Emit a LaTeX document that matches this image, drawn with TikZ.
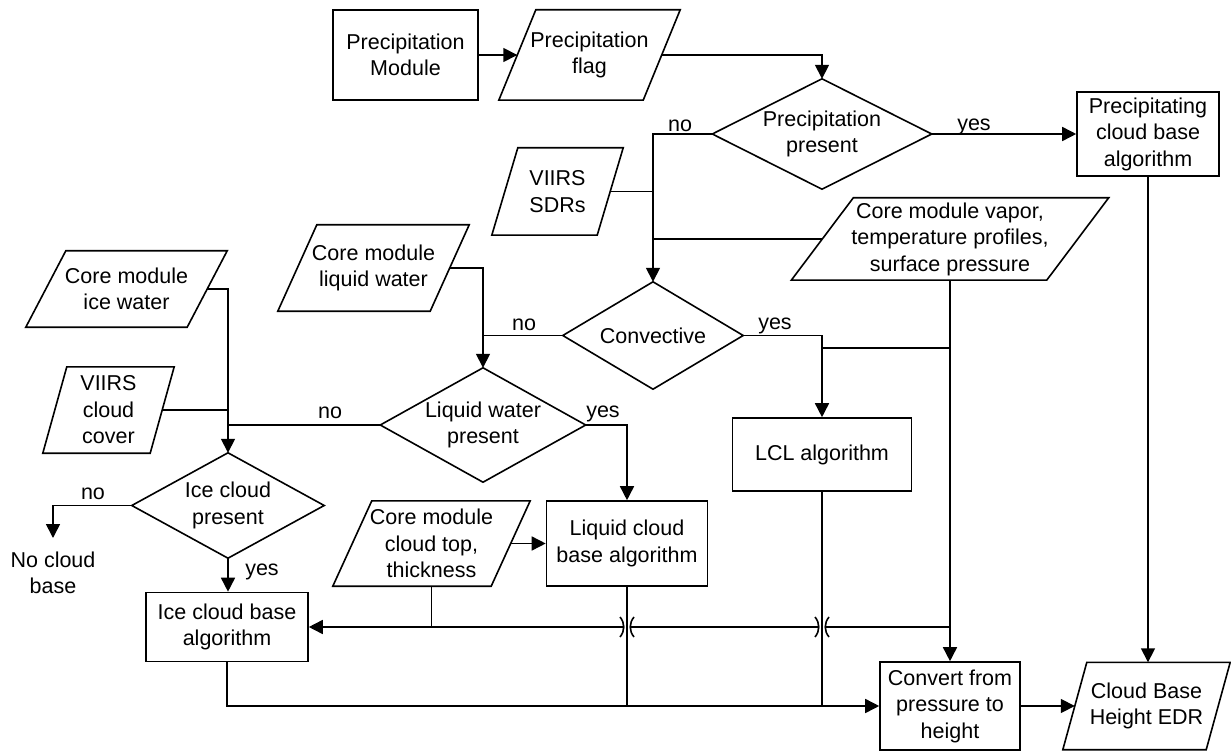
\documentclass[tikz,border=0pt]{standalone}
\usepackage{fontspec}
\setmainfont{Liberation Sans}
\usetikzlibrary{arrows.meta,calc}
\newcommand\ioshape[2]{\draw[line,line join=miter] ([xshift=#2pt]#1.north west) -- (#1.north east) -- ([xshift=-#2pt]#1.south east) -- (#1.south west) -- cycle;}
\newcommand\dmshape[1]{\draw[line,line join=miter] (#1.north) -- (#1.east) -- (#1.south) -- (#1.west) -- cycle;}
\newcommand\jumpmark[2]{\draw[line] (#1-7,#2-10) .. controls (#1-2,#2-4) and (#1-2,#2+4) .. (#1-7,#2+10); \draw[line] (#1+7,#2-10) .. controls (#1+2,#2-4) and (#1+2,#2+4) .. (#1+7,#2+10);}
\begin{document}
\begin{tikzpicture}[x=1pt,y=-1pt,
  every node/.style={font=\fontsize{21.5}{26.5}\selectfont, align=center, inner sep=0pt},
  line/.style={line width=1.6pt},
  arr/.style={line, -{Triangle[length=14pt,width=14pt]}},
  box/.style={draw, line width=1.6pt},
  lab/.style={anchor=base}]
\useasboundingbox (0,0) rectangle (1231,751);
% nodes
\node[box, minimum width=145pt, minimum height=90pt] (pm) at (405.5,55) {Precipitation\\Module};
\node[minimum width=181pt, minimum height=90pt] (pf) at (589.5,55) {Precipitation\\flag};
\node[minimum width=219pt, minimum height=110pt] (pp) at (822,134) {Precipitation\\present};
\node[box, minimum width=142pt, minimum height=84pt] (pcb) at (1148,134) {Precipitating\\cloud base\\algorithm};
\node[minimum width=131pt, minimum height=87pt] (sdr) at (557.5,191.5) {VIIRS\\SDRs};
\node[minimum width=317pt, minimum height=82pt] (vap) at (950,239) {Core module vapor,\\temperature profiles,\\surface pressure};
\node[minimum width=191pt, minimum height=86pt] (lw) at (373.5,268) {Core module\\liquid water};
\node[minimum width=201pt, minimum height=76pt] (iw) at (126.5,289) {Core module\\ice water};
\node[minimum width=180pt, minimum height=107pt] (cv) at (653,335.5) {Convective};
\node[minimum width=131pt, minimum height=86pt] (cc) at (108.5,410) {VIIRS\\cloud\\cover};
\node[minimum width=205pt, minimum height=114pt] (lwp) at (483,425) {Liquid water\\present};
\node[box, minimum width=179pt, minimum height=73pt] (lcl) at (822,454.5) {LCL algorithm};
\node[minimum width=192pt, minimum height=105pt] (icp) at (228,505.5) {Ice cloud\\present};
\node (ncb) at (53,573) {No cloud\\base};
\coordinate (ncbtop) at (53,538);
\node[minimum width=197pt, minimum height=85pt] (ct) at (431.5,543.5) {Core module\\cloud top,\\thickness};
\node[box, minimum width=161pt, minimum height=85pt] (lcb) at (627,543.5) {Liquid cloud\\base algorithm};
\node[box, minimum width=162pt, minimum height=69pt] (icb) at (227,627) {Ice cloud base\\algorithm};
\node[box, minimum width=140pt, minimum height=88pt] (cph) at (950,706) {Convert from\\pressure to\\height};
\node[minimum width=167pt, minimum height=87pt] (edr) at (1146.5,706) {Cloud Base\\Height EDR};
% shapes
\ioshape{pf}{37}
\ioshape{sdr}{26}
\ioshape{vap}{62}
\ioshape{lw}{39}
\ioshape{iw}{40}
\ioshape{cc}{24}
\ioshape{ct}{39}
\ioshape{edr}{24}
\dmshape{pp}
\dmshape{cv}
\dmshape{lwp}
\dmshape{icp}
% labels
\node[lab] (l1) at (974,131) {yes};
\node[lab] (l2) at (680,132) {no};
\node[lab] (l3) at (775,329) {yes};
\node[lab] (l4) at (524,330) {no};
\node[lab] (l5) at (603,417) {yes};
\node[lab] (l6) at (330,418) {no};
\node[lab] (l7) at (93,499) {no};
\node[lab] (l8) at (262,575) {yes};
% connectors
\draw[arr] (pm.east) -- ([xshift=18.5pt]pf.west);
\draw[arr] ([xshift=-18.5pt]pf.east) -| (pp.north);
\draw[arr] (pp.east) -- (pcb.west);
\draw[arr] (pp.west) -| (cv.north);
\draw[line] ([xshift=-13pt]sdr.east) -- (sdr.east -| cv.north);
\draw[line] ([xshift=31pt]vap.west) -- (vap.west -| cv.north);
\draw[arr] (cv.east) -| (lcl.north);
\draw[arr] (vap.south) -- (cph.north);
\draw[line] (vap.south |- 0,348) -- (lcl.north |- 0,348);
\draw[arr] ([xshift=-19.5pt]lw.east) -| (lwp.north);
\draw[line] (cv.west) -- (cv.west -| lwp.north);
\draw[arr] (lwp.east) -| (lcb.north);
\draw[arr] (lwp.west) -| (icp.north);
\draw[line] ([xshift=-20pt]iw.east) -| (icp.north |- lwp.west);
\draw[line] ([xshift=-12pt]cc.east) -- (cc.east -| icp.north);
\draw[arr] (icp.west) -| (ncbtop);
\draw[arr] (icp.south) -- (icp.south |- icb.north);
\draw[arr] ([xshift=-19.5pt]ct.east) -- (lcb.west);
\draw[line] (ct.south) -- (ct.south |- icb.east);
\draw[line] (vap.south |- icb.east) -- (825.25,627);
\draw[line] (818.75,627) -- (630.25,627);
\draw[arr] (623.75,627) -- (icb.east);
\jumpmark{822}{627}
\jumpmark{627}{627}
\draw[line] (lcb.south) -- (lcb.south |- cph.west);
\draw[line] (lcl.south) -- (lcl.south |- cph.west);
\draw[arr] (icb.south) |- (cph.west);
\draw[arr] (cph.east) -- ([xshift=12pt]edr.west);
\draw[arr] (pcb.south) -- (pcb.south |- edr.north);
\end{tikzpicture}
\end{document}
